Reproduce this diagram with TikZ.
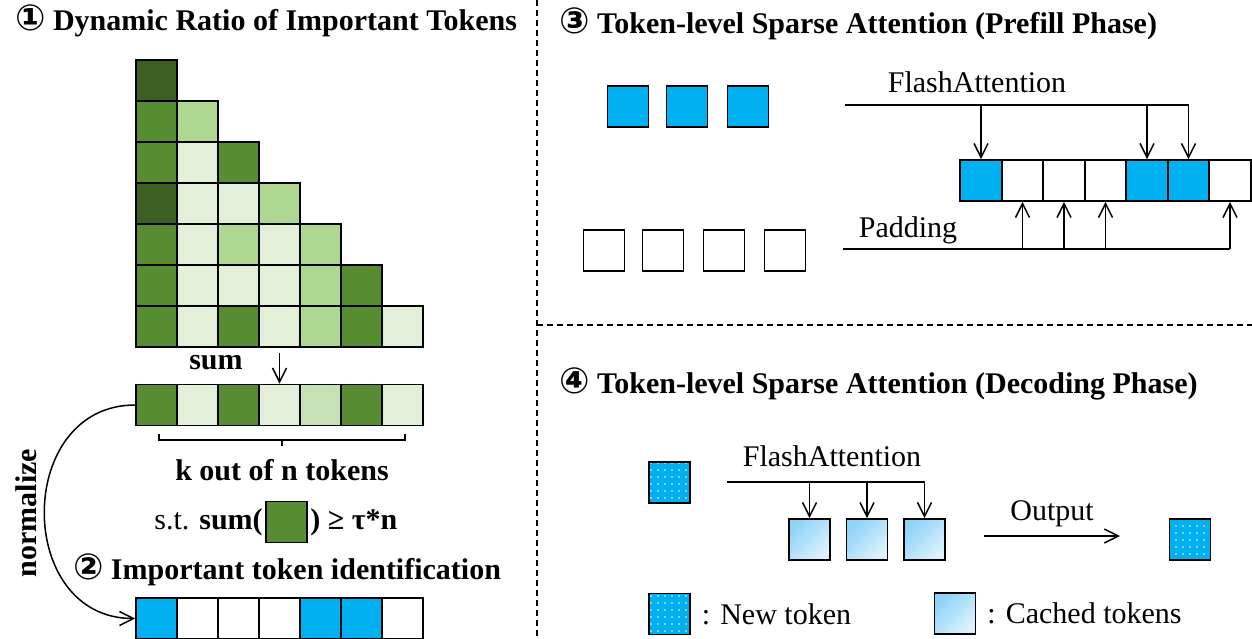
\documentclass[tikz,border=0pt]{standalone}
\usepackage{fontspec}
\setmainfont{Liberation Serif}
\newfontfamily\circfont{DejaVu Sans}
\usetikzlibrary{positioning,arrows.meta,patterns.meta}
\definecolor{gdark}{HTML}{3B5E21}
\definecolor{gmid}{HTML}{578C32}
\definecolor{glight}{HTML}{AED891}
\definecolor{gpale}{HTML}{E3F0D9}
\definecolor{gsum}{HTML}{C6E2B5}
\definecolor{tokblue}{HTML}{00B0F0}
\definecolor{cacheA}{HTML}{8DD3F8}
\definecolor{cacheB}{HTML}{DDF2FD}
\def\circled#1{{\circfont\bfseries\fontsize{18}{18}\selectfont #1}}

\begin{document}
\begin{tikzpicture}[x=0.5pt,y=-0.5pt,
  every node/.style={font=\fontsize{15}{18}\selectfont},
  bold/.style={font=\fontsize{15}{18}\selectfont\bfseries},
  cell/.style={draw,line width=0.9pt,minimum size=20.5pt,inner sep=0pt},
  arr/.style={-{Straight Barb[length=7pt,width=7pt]},line width=0.75pt},
  newtok/.style={cell,preaction={fill=tokblue},pattern={Dots[radius=0.45pt,distance=3.5pt]},pattern color=white},
  cached/.style={cell,top color=cacheA,bottom color=cacheB,shading angle=45},
  sep/.style={dash pattern=on 3pt off 2pt,line width=0.6pt}]
\useasboundingbox (0,0) rectangle (1252,638);
\node[bold,anchor=west] (t1) at (8,21) {\circled{①} Dynamic Ratio of Important Tokens};
\foreach \r/\row in {0/{gdark},1/{gmid,glight},2/{gmid,gpale,gmid},3/{gdark,gpale,gpale,glight},
  4/{gmid,gpale,glight,gpale,glight},5/{gmid,gpale,gpale,gpale,glight,gmid},6/{gmid,gpale,gmid,gpale,glight,gmid,gpale}}
  \foreach \c [count=\i from 0] in \row
    \node[cell,fill=\c] (m\r\i) at (156.5+41*\i,80.5+41*\r) {};
\foreach \c [count=\i from 0] in {gmid,gpale,gmid,gpale,gsum,gmid,gpale}
  \node[cell,fill=\c] (s\i) at (156.5+41*\i,405) {};
\draw[arr,shorten <=2.5pt] (m63.south) -- (s3.north);
\node[bold] (sumlbl) at (216,363) {sum};
\draw[line width=0.75pt] (159,434) -- (159,440) -- (405,440) -- (405,434) (282,440) -- (282,446);
\node[bold] (kout) at (282,470) {k out of n tokens};
\node[cell,fill=gmid] (stbox) at (286.5,522) {};
\node[left=0pt of stbox,inner xsep=1pt] (stl) {s.t. \textbf{sum(}};
\node[right=0pt of stbox,inner xsep=1pt] (str) {\textbf{) ≥ τ*n}};
\node[bold] (t2) at (287,570) {\circled{②} Important token identification};
\foreach \c [count=\i from 0] in {tokblue,white,white,white,tokblue,tokblue,white}
  \node[cell,fill=\c] (b\i) at (156.5+41*\i,618.5) {};
\node[bold,rotate=90] (norm) at (26,513) {normalize};
\draw[arr] (s0.west) to[out=180,in=180,looseness=1.45] (b0.west);

\coordinate (vtop) at (537,0);
\coordinate (vbot) at (537,638);
\draw[sep] (vtop) -- (vbot);
\draw[sep] (537,325) -- (1252,325);

\node[bold,anchor=west] (t3) at (552,24) {\circled{③} Token-level Sparse Attention (Prefill Phase)};
\foreach \x [count=\i] in {628,687,748}
  \node[cell,fill=tokblue] (q\i) at (\x,106.5) {};
\foreach \x [count=\i] in {604,663,724,785}
  \node[cell] (p\i) at (\x,250.5) {};
\foreach \c [count=\i from 0] in {tokblue,white,white,white,tokblue,tokblue,white}
  \node[cell,minimum width=20.75pt,fill=\c] (r\i) at (981+41.5*\i,180.5) {};
\node (fa1) at (977,82) {FlashAttention};
\coordinate (faL) at (845,105);
\draw[line width=0.75pt] (faL) -- (faL -| r5);
\foreach \k in {0,4,5} \draw[arr] (faL -| r\k) -- (r\k.north);
\node (pad) at (908,230) {Padding};
\coordinate (padL) at (843,249);
\draw[line width=0.75pt] (padL) -- (padL -| r6);
\foreach \k in {1,2,3,6} \draw[arr] (padL -| r\k) -- (r\k.south);

\node[bold,anchor=west] (t4) at (552,384) {\circled{④} Token-level Sparse Attention (Decoding Phase)};
\node[newtok] (nt) at (669.5,482.5) {};
\node (fa2) at (832,456) {FlashAttention};
\foreach \x [count=\i] in {809.5,867,924.5}
  \node[cached] (c\i) at (\x,539.5) {};
\coordinate (fbL) at (727,482);
\draw[line width=0.75pt] (fbL) -- (fbL -| c3);
\foreach \k in {1,2,3} \draw[arr] (fbL -| c\k) -- (c\k.north);
\coordinate (outL) at (984,536);
\coordinate (outR) at (1120,536);
\draw[arr] (outL) -- node[above=1pt] (outlbl) {Output} (outR);
\node[newtok] (ot) at (1190,539.5) {};
\node[newtok] (lg1) at (669.5,614) {};
\node[right=2pt of lg1] (lgt1) {: New token};
\node[cached] (lg2) at (955,613.5) {};
\node[right=2pt of lg2] (lgt2) {: Cached tokens};
\end{tikzpicture}
\end{document}
